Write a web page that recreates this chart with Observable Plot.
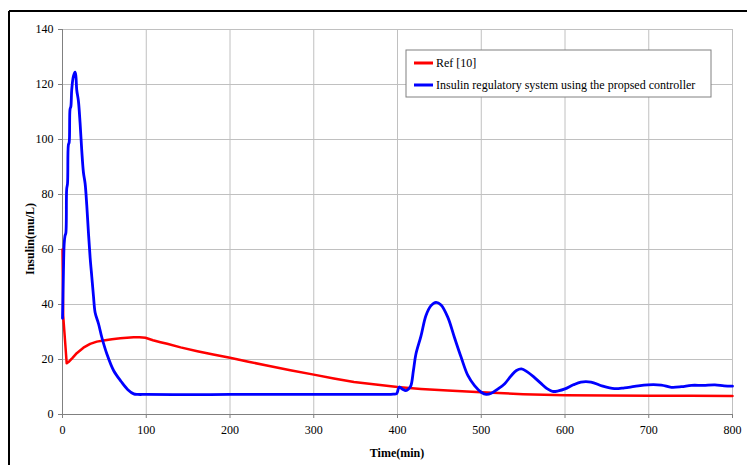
<!DOCTYPE html>
<html>
<head>
<meta charset="utf-8">
<script src="https://cdn.jsdelivr.net/npm/d3@7"></script>
<script src="https://cdn.jsdelivr.net/npm/@observablehq/plot@0.6"></script>
<style>
  html, body { margin: 0; padding: 0; background: #fff; }
  #chart { width: 747px; height: 465px; }
</style>
</head>
<body>
<div id="chart"></div>
<script>
const seriesNames = ["Ref [10]", "Insulin regulatory system using the propsed controller"];
const seriesColors = ["#ff0000", "#0000ff"];
const xTitle = "Time(min)";
const yTitle = "Insulin(mu/L)";

const xTicks = [0, 100, 200, 300, 400, 500, 600, 700, 800];
const yTicks = [0, 20, 40, 60, 80, 100, 120, 140];

const refT = [0, 0.8, 3, 5, 8, 12, 17, 25, 33, 41, 49, 59, 69, 77, 85, 92, 99, 108, 117, 125, 141, 161, 180, 200, 222, 244, 272, 300, 324, 348, 374, 400, 428, 460, 500, 550, 600, 650, 700, 750, 800];
const refY = [60, 36, 27, 18.6, 19.3, 20.6, 22.3, 24.3, 25.7, 26.5, 26.9, 27.4, 27.7, 27.9, 28.1, 28.1, 27.9, 27.0, 26.3, 25.7, 24.4, 23.0, 21.8, 20.6, 19.2, 17.8, 16.1, 14.5, 13.1, 11.8, 10.9, 10.0, 9.3, 8.7, 8.1, 7.4, 7.0, 6.9, 6.8, 6.8, 6.7];

const ctrlT = [0, 1, 2, 3, 4, 5, 6, 7, 8, 9, 10, 11, 13, 15, 16, 17, 19, 21, 23, 25, 27, 29, 31, 33, 35, 37, 39, 43, 47, 53, 61, 70, 78, 85, 90, 100, 150, 200, 250, 300, 350, 395, 399, 402, 406, 410, 413, 416, 419, 422, 428, 434, 440, 446, 452, 460, 468, 476, 484, 492, 500, 506, 512, 520, 528, 536, 542, 548, 555, 563, 571, 579, 585, 592, 600, 610, 619, 631, 645, 659, 671, 683, 699, 715, 727, 739, 751, 765, 779, 790, 800];
const ctrlY = [35, 50, 62, 65, 66, 82, 84, 98, 99, 111, 112, 118, 123, 124.5, 123, 118, 114, 106, 96, 88, 84, 76, 66, 57, 50, 43, 37, 33, 28, 22, 16, 12, 9, 7.5, 7.3, 7.3, 7.2, 7.3, 7.3, 7.3, 7.3, 7.4, 7.6, 10, 9.2, 8.7, 9.2, 10.5, 16, 22, 28.5, 36, 39.6, 40.8, 39.8, 35.4, 28, 20.8, 14.2, 10.5, 8.1, 7.3, 7.7, 9.3, 11.2, 14.2, 16.0, 16.6, 15.5, 13.6, 11.4, 9.3, 8.4, 8.6, 9.3, 10.8, 11.8, 11.8, 10.3, 9.4, 9.7, 10.2, 10.8, 10.7, 9.9, 10.1, 10.6, 10.6, 10.8, 10.4, 10.3];

const refData = refT.map((t, i) => ({t, v: refY[i], s: seriesNames[0]}));
const ctrlData = ctrlT.map((t, i) => ({t, v: ctrlY[i], s: seriesNames[1]}));

const W = 747, H = 465;
const mL = 62, mR = 15, mT = 29, mB = 51;
const serif = "'Liberation Serif', 'Times New Roman', serif";

const chart = Plot.plot({
  width: W,
  height: H,
  marginLeft: mL,
  marginRight: mR,
  marginTop: mT,
  marginBottom: mB,
  style: {fontFamily: serif, fontSize: "12px", color: "#000", background: "#fff"},
  x: {domain: [0, 800], ticks: xTicks},
  y: {domain: [0, 140], ticks: yTicks},
  marks: [
    Plot.gridX(xTicks, {stroke: "#c0c0c0", strokeOpacity: 1}),
    Plot.gridY(yTicks, {stroke: "#c0c0c0", strokeOpacity: 1}),
    Plot.ruleX([0], {stroke: "#808080"}),
    Plot.ruleY([0], {stroke: "#808080"}),
    Plot.axisX(xTicks, {tickSize: 4, tickPadding: 7, stroke: "#808080", fill: "#000", label: null, fontSize: 12, fontFamily: serif}),
    Plot.axisY(yTicks, {tickSize: 4, tickPadding: 5, stroke: "#808080", fill: "#000", label: null, fontSize: 12, fontFamily: serif}),
    Plot.line(refData, {x: "t", y: "v", stroke: seriesColors[0], strokeWidth: 2.5, curve: "linear"}),
    Plot.line(ctrlData, {x: "t", y: "v", stroke: seriesColors[1], strokeWidth: 2.8, curve: "catmull-rom"})
  ]
});

const svg = d3.select(chart);
// axis titles
svg.append("text").attr("x", 397).attr("y", 453).attr("dy", "0.35em")
  .attr("text-anchor", "middle").attr("font-family", serif).attr("font-weight", "bold")
  .attr("font-size", 12).attr("fill", "#000").text(xTitle);
svg.append("text").attr("transform", "translate(30,239) rotate(-90)").attr("dy", "0.35em")
  .attr("text-anchor", "middle").attr("font-family", serif).attr("font-weight", "bold")
  .attr("font-size", 12).attr("fill", "#000").text(yTitle);

// outer border (top and left)
svg.append("line").attr("x1", 9).attr("x2", W).attr("y1", 11).attr("y2", 11).attr("stroke", "#000").attr("stroke-width", 2);
svg.append("line").attr("x1", 9).attr("x2", 9).attr("y1", 11).attr("y2", H).attr("stroke", "#000").attr("stroke-width", 2);

// legend box
const lg = svg.append("g").attr("transform", "translate(406,50)");
lg.append("rect").attr("x", 0).attr("y", 0).attr("width", 305).attr("height", 47)
  .attr("fill", "#fff").attr("stroke", "#808080").attr("stroke-width", 1);
seriesNames.forEach((name, i) => {
  const cy = 13 + i * 22;
  lg.append("line").attr("x1", 8).attr("x2", 27).attr("y1", cy).attr("y2", cy)
    .attr("stroke", seriesColors[i]).attr("stroke-width", 3);
  lg.append("text").attr("x", 30).attr("y", cy).attr("dy", "0.35em")
    .attr("text-anchor", "start")
    .attr("font-family", serif).attr("font-size", 12).attr("fill", "#000")
    .text(name);
});

document.getElementById("chart").appendChild(chart);
</script>
</body>
</html>
